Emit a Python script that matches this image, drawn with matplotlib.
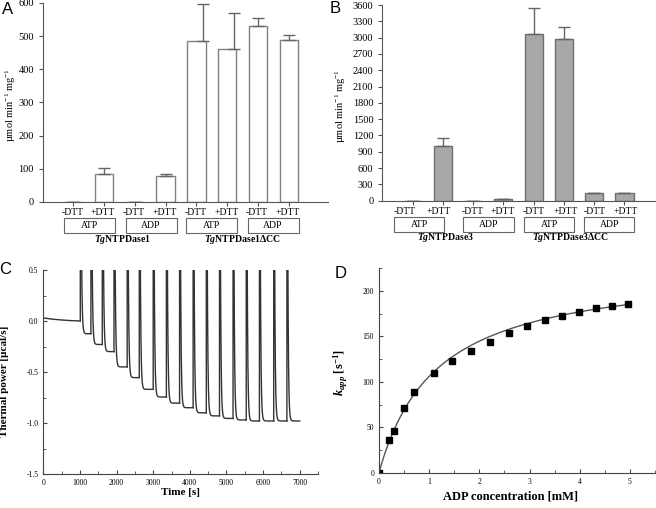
import matplotlib.pyplot as plt
import numpy as np
from matplotlib.patches import Rectangle
from matplotlib.ticker import MultipleLocator

plt.rcParams['font.family'] = ['Liberation Serif', 'DejaVu Serif']
plt.rcParams['mathtext.fontset'] = 'custom'
plt.rcParams['mathtext.rm'] = 'Liberation Serif'
plt.rcParams['mathtext.it'] = 'Liberation Serif:italic'
plt.rcParams['mathtext.bf'] = 'Liberation Serif:bold'
plt.rcParams['mathtext.bfit'] = 'Liberation Serif:italic:bold'
plt.rcParams['axes.unicode_minus'] = False

# bar panels (A, B)
conditions = ['-DTT', '+DTT'] * 4
substrates = ['ATP', 'ADP', 'ATP', 'ADP']
groups_a = [r'$\mathbfit{Tg}$NTPDase1', r'$\mathbfit{Tg}$NTPDase1ΔCC']
groups_b = [r'$\mathbfit{Tg}$NTPDase3', r'$\mathbfit{Tg}$NTPDase3ΔCC']
rate_a = [0, 85, 0, 77, 486, 462, 532, 488]
err_a = [0, 16, 0, 6, 111, 108, 23, 15]
rate_b = [0, 1010, 0, 25, 3060, 2968, 135, 140]
err_b = [0, 135, 0, 6, 480, 221, 8, 8]

# ITC trace (C)
pre_t = [0, 250, 500, 750, 1010]
pre_power = [0.03, 0.018, 0.010, 0.004, 0.0]
inj_times = [1010, 1300, 1610, 1930, 2290, 2620, 3000, 3360, 3720,
             4090, 4450, 4810, 5180, 5540, 5900, 6290, 6650]
plateaus = [-0.125, -0.23, -0.30, -0.45, -0.555, -0.67, -0.745, -0.805, -0.85,
            -0.90, -0.93, -0.955, -0.97, -0.98, -0.98, -0.98, -0.98]
t_end = 7000

# kinetics (D)
adp_conc = [0, 0.2, 0.3, 0.5, 0.7, 1.1, 1.46, 1.84, 2.22, 2.59, 2.95,
            3.31, 3.65, 3.99, 4.33, 4.64, 4.97]
k_app = [0, 36, 46, 71, 88.5, 109.5, 123, 134, 143.5, 154, 162,
         168, 173, 177, 181, 183, 185.5]
k_max = 228
k_m = 1.15


def bar_panel(ax, rates, errs, face, edge, groups, err_dx,
              cond_x, box_x, group_x, ymax, ystep):
    x = np.arange(len(rates))
    ax.bar(x, rates, width=0.6, color=face, edgecolor=edge, linewidth=1)
    ax.errorbar(x + np.array(err_dx), rates, yerr=[np.zeros(len(errs)), errs],
                fmt='none', ecolor='#666666', elinewidth=1, capsize=4, capthick=1)
    ax.set_ylim(0, ymax)
    ax.yaxis.set_major_locator(MultipleLocator(ystep))
    ax.set_xticks(x)
    ax.set_xticklabels([])
    for s in ['top', 'right']:
        ax.spines[s].set_visible(False)
    for s in ['left', 'bottom']:
        ax.spines[s].set_color('#555555')
    ax.tick_params(direction='out', length=3, color='#555555', labelsize=7.5)
    tr = ax.get_xaxis_transform()
    for xi, c in zip(cond_x, conditions):
        ax.text(xi, -0.053, c, transform=tr, ha='center', va='center', fontsize=7)
    for bx, s in zip(box_x, substrates):
        ax.add_patch(Rectangle((bx - 0.83, -0.158), 1.66, 0.076, transform=tr,
                               fill=False, edgecolor='#666666', lw=0.8, clip_on=False))
        ax.text(bx, -0.12, s, transform=tr, ha='center', va='center', fontsize=7)
    for gx, g in zip(group_x, groups):
        ax.text(gx, -0.188, g, transform=tr, ha='center', va='center',
                fontsize=7, fontweight='bold')
    ax.set_ylabel('µmol min$^{-1}$ mg$^{-1}$', fontsize=7.5)


fig = plt.figure(figsize=(6.56, 5.08), dpi=100)

ax_a = fig.add_axes([0.0655, 0.6024, 0.4345, 0.3917])
bar_panel(ax_a, rate_a, err_a, 'white', '#808080', groups_a,
          [0, 0, 0, 0, 0.22, 0.22, 0, 0],
          [i - 0.03 for i in range(8)], [0.53, 2.53, 4.5, 6.49], [1.59, 5.49], 600, 100)
ax_a.set_xlim(-0.98, 8.27)
ax_a.yaxis.set_label_coords(-0.088, 0.49)

ax_b = fig.add_axes([0.5828, 0.6049, 0.4152, 0.3852])
bar_panel(ax_b, rate_b, err_b, '#a8a8a8', '#6e6e6e', groups_b,
          [0] * 8,
          [-0.25, 0.85, 1.98, 2.99, 3.99, 5.07, 6.0, 7.04], [0.22, 2.51, 4.51, 6.5],
          [1.08, 5.2], 3600, 300)
ax_b.set_xlim(-1.0, 8.0)
ax_b.yaxis.set_label_coords(-0.126, 0.484)

# C: build the thermogram from the injection times and plateau levels
ax_c = fig.add_axes([0.066, 0.0669, 0.4188, 0.4016])
ax_c.plot(pre_t, pre_power, color='#333333', lw=1)
peak, tau, hold = 3.0, 18.0, 10.0
for i, t0 in enumerate(inj_times):
    t1 = inj_times[i + 1] if i + 1 < len(inj_times) else t_end
    prev = pre_power[-1] if i == 0 else plateaus[i - 1]
    tt = np.arange(t0 + hold, t1 + 1, 1.0)
    yy = plateaus[i] + (peak - plateaus[i]) * np.exp(-(tt - t0 - hold) / tau)
    ax_c.plot(np.r_[t0, t0 + 1, tt], np.r_[prev, peak, yy], color='#333333', lw=1)
ax_c.set_xlim(0, 7500)
ax_c.set_ylim(-1.5, 0.5)
ax_c.xaxis.set_major_locator(MultipleLocator(1000))
ax_c.xaxis.set_minor_locator(MultipleLocator(500))
ax_c.yaxis.set_major_locator(MultipleLocator(0.5))
ax_c.yaxis.set_minor_locator(MultipleLocator(0.25))
ax_c.yaxis.set_major_formatter(plt.FormatStrFormatter('%.1f'))
ax_c.set_xlabel('Time [s]', fontsize=8, fontweight='bold')
ax_c.set_ylabel('Thermal power [µcal/s]', fontsize=8, fontweight='bold')
ax_c.xaxis.set_label_coords(0.5, -0.069)
ax_c.yaxis.set_label_coords(-0.125, 0.453)

# D: Michaelis-Menten fit
ax_d = fig.add_axes([0.5777, 0.0695, 0.4208, 0.4024])
xf = np.linspace(0, 4.97, 200)
ax_d.plot(xf, k_max * xf / (k_m + xf), color='#555555', lw=1)
ax_d.plot(adp_conc, k_app, 's', color='black', ms=4.5)
ax_d.set_xlim(0, 5.5)
ax_d.set_ylim(0, 225)
ax_d.xaxis.set_major_locator(MultipleLocator(1))
ax_d.xaxis.set_minor_locator(MultipleLocator(0.5))
ax_d.yaxis.set_major_locator(MultipleLocator(50))
ax_d.yaxis.set_minor_locator(MultipleLocator(25))
ax_d.set_xlabel('ADP concentration [mM]', fontsize=9, fontweight='bold')
ax_d.set_ylabel(r'$\mathbfit{k}_{\mathbfit{app}}$ [s$^{\mathbf{-1}}$]', fontsize=9, fontweight='bold')
ax_d.xaxis.set_label_coords(0.478, -0.085)
ax_d.yaxis.set_label_coords(-0.105, 0.49)

for ax in (ax_c, ax_d):
    for s in ['top', 'right']:
        ax.spines[s].set_visible(False)
    for s in ['left', 'bottom']:
        ax.spines[s].set_color('#444444')
    ax.tick_params(which='major', direction='in', length=3, color='#444444', labelsize=5.5)
    ax.tick_params(which='minor', direction='in', length=2, color='#444444')

for lx, ly, letter in [(8, 9, 'A'), (335.5, 8.5, 'B'), (5, 269, 'C'), (341, 273.5, 'D')]:
    fig.text(lx / 656, 1 - ly / 508, letter, ha='center', va='center',
             family='Liberation Sans', fontsize=12)

fig.savefig('out.png', dpi=100)
